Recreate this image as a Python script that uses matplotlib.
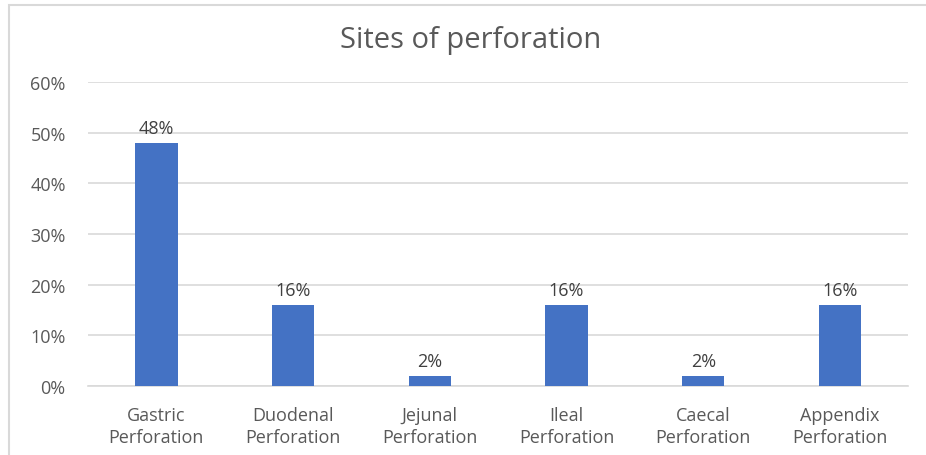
import matplotlib.pyplot as plt
from matplotlib.patches import Rectangle
from matplotlib.ticker import PercentFormatter

categories = ["Gastric\nPerforation", "Duodenal\nPerforation", "Jejunal\nPerforation",
              "Ileal\nPerforation", "Caecal\nPerforation", "Appendix\nPerforation"]
values = [48, 16, 2, 16, 2, 16]

plt.rcParams["font.family"] = ["Open Sans", "DejaVu Sans"]

fig = plt.figure(figsize=(9.26, 4.56), dpi=100)
ax = fig.add_axes([0.095, 0.151, 0.886, 0.667])

# chart border
fig.patches.append(Rectangle((9 / 926, -0.1), 1.0, 1 - 6 / 456 + 0.1, transform=fig.transFigure,
                             fill=False, edgecolor="#d9d9d9", linewidth=1.5))

x = range(len(categories))
ax.bar(x, values, width=0.31, color="#4472c4", zorder=3)
for xi, v in zip(x, values):
    ax.text(xi, v + 1.2, f"{v}%", ha="center", va="bottom", fontsize=13, color="#404040")

ax.set_xlim(-0.5, len(categories) - 0.5)
ax.set_ylim(0, 60)
ax.set_yticks(range(0, 61, 10))
ax.yaxis.set_major_formatter(PercentFormatter(decimals=0))
ax.set_xticks(list(x))
ax.set_xticklabels(categories, fontsize=13, color="#595959", linespacing=1.35)
ax.tick_params(axis="y", labelsize=13, labelcolor="#595959", length=0, pad=16)
ax.tick_params(axis="x", length=0, pad=14)
ax.grid(axis="y", color="#d9d9d9", linewidth=1.2, zorder=0)
for s in ["top", "right", "left"]:
    ax.spines[s].set_visible(False)
ax.spines["bottom"].set_color("#d9d9d9")
ax.spines["bottom"].set_linewidth(1.2)

fig.text(0.508, 0.912, "Sites of perforation", ha="center", va="center", fontsize=21, color="#595959")

fig.savefig("out.png", dpi=100)
